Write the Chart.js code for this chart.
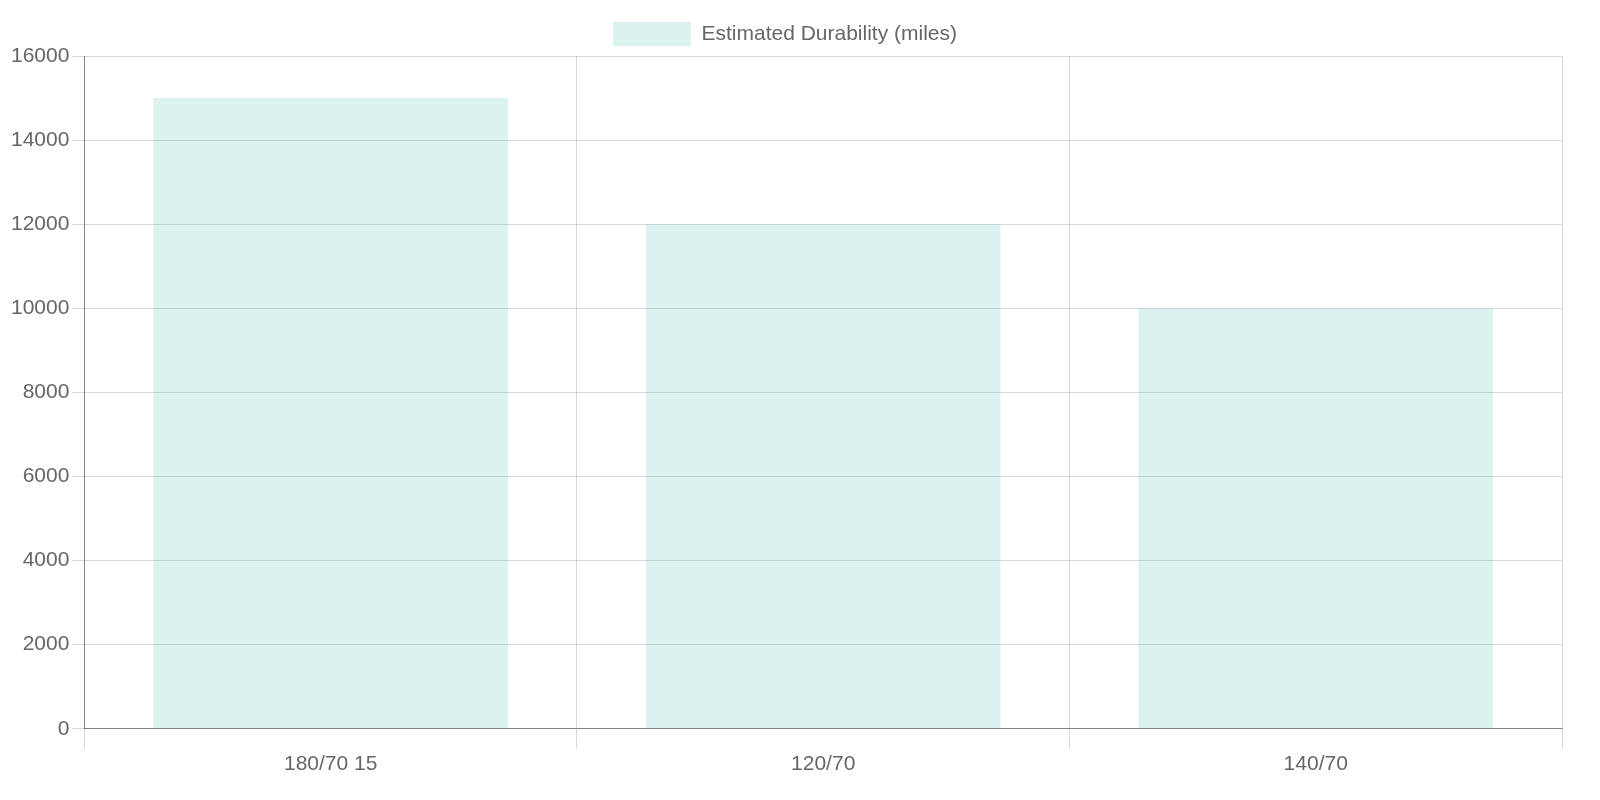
<!DOCTYPE html>
<html><head><meta charset="utf-8">
<script src="https://cdn.jsdelivr.net/npm/chart.js@4"></script>
<style>html,body{margin:0;padding:0;background:#fff}#w{width:1600px;height:800px}</style>
</head><body><div id="w"><canvas id="c"></canvas></div>
<script>
const categories = ["180/70 15", "120/70", "140/70"];
const durability = [15000, 12000, 10000];
const seriesLabel = "Estimated Durability (miles)";
Chart.defaults.font.size = 21;
Chart.defaults.font.family = "'Liberation Sans', Arial, sans-serif";
new Chart(document.getElementById('c'), {
  type: 'bar',
  data: { labels: categories, datasets: [{ label: seriesLabel, data: durability,
    backgroundColor: 'rgba(75,192,175,0.2)', borderWidth: 0 }] },
  options: { responsive: true, maintainAspectRatio: false, animation: false,
    layout: { padding: { left: 8, right: 38, top: 10, bottom: 20 } },
    plugins: { legend: { labels: { boxWidth: 78, boxHeight: 24, padding: 12 } } },
    scales: {
      x: { grid: { color: 'rgba(0,0,0,0.15)', tickLength: 20 }, border: { color: 'rgba(0,0,0,0.4)' } },
      y: { beginAtZero: true, max: 16000,
        grid: { color: 'rgba(0,0,0,0.15)', tickLength: 12 }, border: { color: 'rgba(0,0,0,0.4)' },
        ticks: { stepSize: 2000, callback: v => String(v) } } }
  }
});
</script></body></html>
